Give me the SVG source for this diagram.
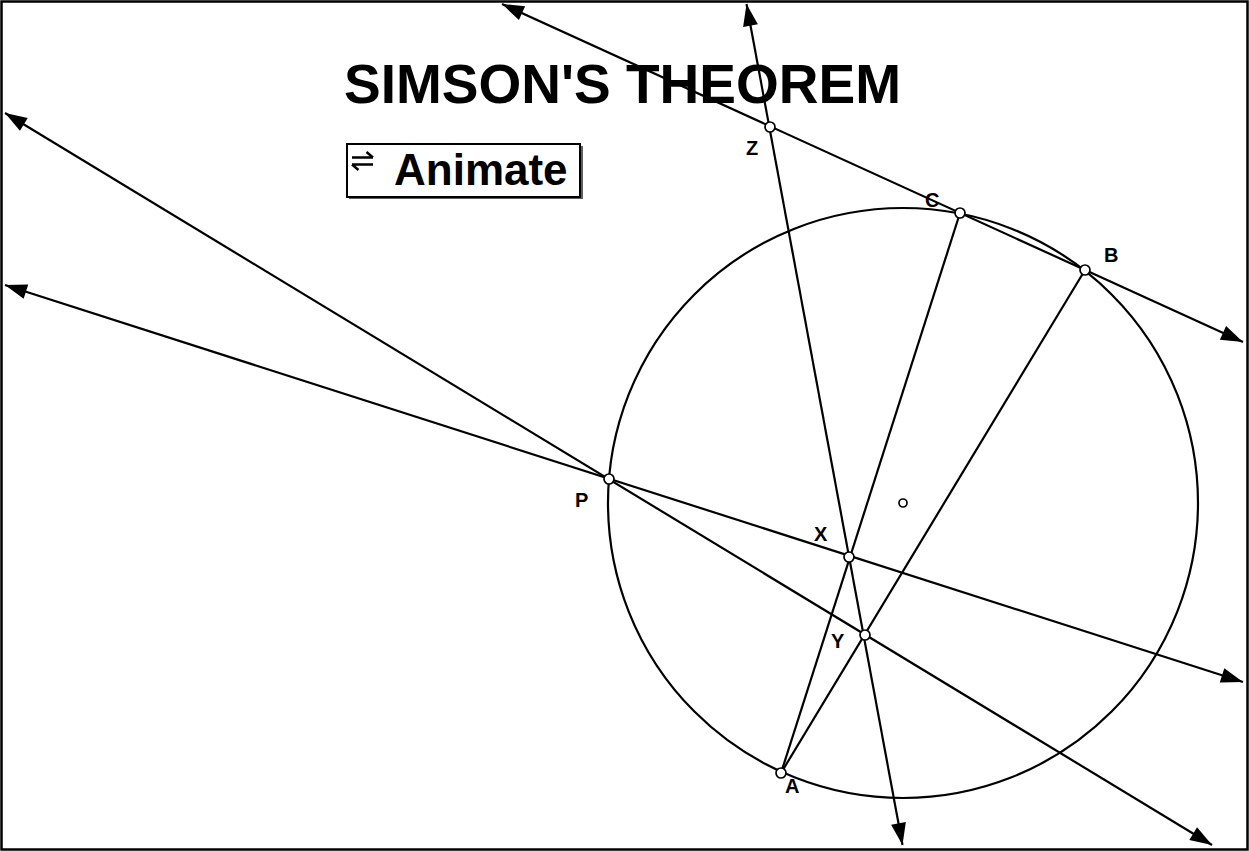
<svg xmlns="http://www.w3.org/2000/svg" width="1249" height="851" viewBox="0 0 1249 851">
<defs>
<style>
.ln{stroke:#000;stroke-width:2.2;fill:none}
.pt{fill:#fff;stroke:#000;stroke-width:1.7}
.lbl{font-family:"Liberation Sans",Arial,sans-serif;font-weight:bold;font-size:20px;fill:#000}
</style>
<marker id="ah" markerUnits="userSpaceOnUse" viewBox="-1 -9 25 18" refX="22" refY="0" markerWidth="25" markerHeight="18" orient="auto-start-reverse">
<path d="M0,-7.5 L22,0 L0,7.5 Z" fill="#000"/>
</marker>
</defs>
<rect x="0" y="0" width="1249" height="851" fill="#fff"/>
<rect x="1.5" y="1.5" width="1246" height="848" fill="none" stroke="#000" stroke-width="2.5"/>
<text x="344" y="103" font-family="'Liberation Sans',Arial,sans-serif" font-weight="bold" font-size="55">SIMSON'S THEOREM</text>
<g id="animate-button">
<rect x="349" y="146" width="234" height="53" fill="#606060"/>
<rect x="347" y="144" width="233" height="53" fill="#fff" stroke="#000" stroke-width="2"/>
<path d="M352,157.5 H373 M373,157.5 L366.5,152 M352,164.5 H373 M352,164.5 L358.5,170" stroke="#000" stroke-width="2.4" fill="none"/>
<text x="394" y="185" font-family="'Liberation Sans',Arial,sans-serif" font-weight="bold" font-size="44">Animate</text>
</g>
<g id="connectors">
<circle cx="903" cy="503" r="295" class="ln"/>
<line x1="502" y1="4" x2="1243" y2="342" class="ln" marker-start="url(#ah)" marker-end="url(#ah)"/>
<line x1="746.5" y1="4" x2="902.5" y2="845" class="ln" marker-start="url(#ah)" marker-end="url(#ah)"/>
<line x1="5" y1="113" x2="1212" y2="845" class="ln" marker-start="url(#ah)" marker-end="url(#ah)"/>
<line x1="5" y1="285" x2="1243" y2="682" class="ln" marker-start="url(#ah)" marker-end="url(#ah)"/>
<line x1="781" y1="773" x2="960" y2="213" class="ln"/>
<line x1="781" y1="773" x2="1085" y2="270" class="ln"/>
</g>
<g id="center"><circle cx="903" cy="503" r="4" class="pt"/></g>
<g id="Z"><circle cx="770" cy="127" r="5" class="pt"/><text x="746" y="155" class="lbl">Z</text></g>
<g id="C"><circle cx="960" cy="213" r="5" class="pt"/><text x="925" y="207" class="lbl">C</text></g>
<g id="B"><circle cx="1085" cy="270" r="5" class="pt"/><text x="1104" y="262" class="lbl">B</text></g>
<g id="P"><circle cx="609" cy="479" r="5" class="pt"/><text x="575" y="507" class="lbl">P</text></g>
<g id="X"><circle cx="849" cy="557" r="5" class="pt"/><text x="814" y="541" class="lbl">X</text></g>
<g id="Y"><circle cx="865" cy="635" r="5" class="pt"/><text x="831" y="648" class="lbl">Y</text></g>
<g id="A"><circle cx="781" cy="773" r="5" class="pt"/><text x="785" y="793" class="lbl">A</text></g>
</svg>
